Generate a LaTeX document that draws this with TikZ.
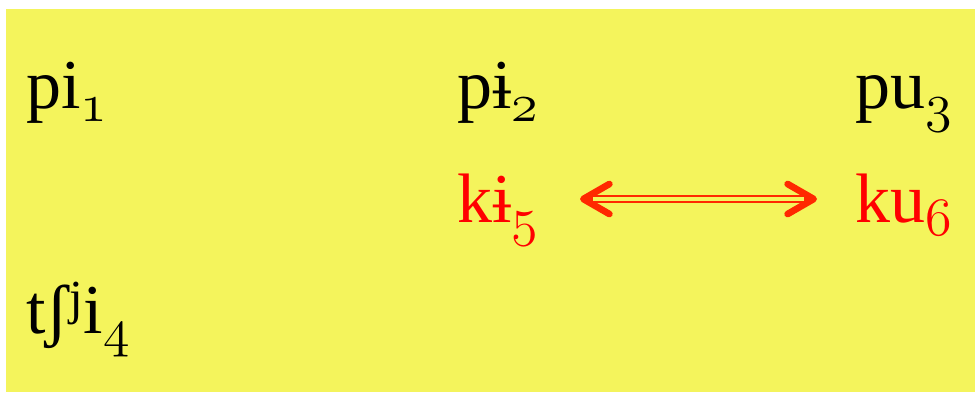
\documentclass[tikz,border=0pt]{standalone}
\usepackage{fontspec}
\setmainfont{Liberation Serif}
\usetikzlibrary{arrows.meta}
\definecolor{cBg}{RGB}{244,244,92}
\definecolor{cRed}{RGB}{255,0,0}
\definecolor{cArr}{RGB}{255,40,0}
\font\osfnt=cmmi12 at 27pt
\newcommand{\osub}[1]{\raisebox{-6.5pt}{\osfnt #1}}
\tikzset{
  lbl/.style={anchor=base west,inner sep=0pt,font=\fontsize{35}{40}\selectfont},
  barb/.tip={Straight Barb[length=13pt,width=15pt,line width=3.35pt 0,round]}
}

\begin{document}
\begin{tikzpicture}[x=0.5pt,y=-0.5pt]
\useasboundingbox (0,0) rectangle (975,393);
\fill[cBg] (6,9) rectangle (975,392);
\node[lbl] (p1) at (26,108) {pi\osub{1}};
\node[lbl] (p2) at (457,108) {pɨ\osub{2}};
\node[lbl] (p3) at (855,108) {pu\osub{3}};
\node[lbl,text=cRed] (k5) at (457,222) {kɨ\osub{5}};
\node[lbl,text=cRed] (k6) at (855,222) {ku\osub{6}};
\node[lbl] (t4) at (26,333) {tʃ\textsuperscript{j}i\osub{4}};
\coordinate (a5) at (580,199);
\coordinate (a6) at (817,199);
\draw[cArr,line width=4.35pt,barb-barb] (a5) -- (a6);
\draw[cBg,line width=1.65pt,shorten <=6.5pt,shorten >=6.5pt] (a5) -- (a6);
\end{tikzpicture}
\end{document}
